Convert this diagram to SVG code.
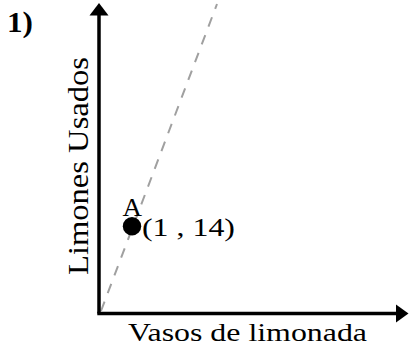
<svg xmlns="http://www.w3.org/2000/svg" width="409" height="352" viewBox="0 0 409 352">
<style>
.axis{stroke:#000;stroke-width:3.5;fill:none}
.guide{stroke:#a0a0a0;stroke-width:2;stroke-dasharray:10 9;fill:none}
.t{font-family:'Liberation Serif','Times New Roman',Tinos,Times,serif;fill:#000}
</style>
<rect width="409" height="352" fill="#fff"/>
<text class="t" x="7" y="31.5" font-size="29" font-weight="bold" textLength="26" lengthAdjust="spacingAndGlyphs">1)</text>
<g id="connectors">
<line id="guide" class="guide" x1="101" y1="311" x2="217" y2="4"/>
<polyline id="y-axis" class="axis" points="99,313.5 99,15"/>
<path d="M89.5,15.5 L99,3 L108.5,15.5 Z" fill="#000"/>
<polyline id="x-axis" class="axis" points="97.3,313.5 396,313.5"/>
<path d="M396,304.5 L408.5,313.5 L396,322.5 Z" fill="#000"/>
</g>
<g id="y-label"><text class="t" transform="translate(88,275) rotate(-90)" font-size="29" textLength="218" lengthAdjust="spacingAndGlyphs">Limones Usados</text></g>
<g id="x-label"><text class="t" x="128" y="341" font-size="25" textLength="239" lengthAdjust="spacingAndGlyphs">Vasos de limonada</text></g>
<g id="point-A">
<circle cx="132" cy="226.3" r="9.2" fill="#000"/>
<text class="t" x="122.5" y="216" font-size="25" textLength="19.5" lengthAdjust="spacingAndGlyphs">A</text>
<text class="t" x="142" y="235.5" font-size="25" textLength="93" lengthAdjust="spacingAndGlyphs">(1 , 14)</text>
</g>
</svg>
